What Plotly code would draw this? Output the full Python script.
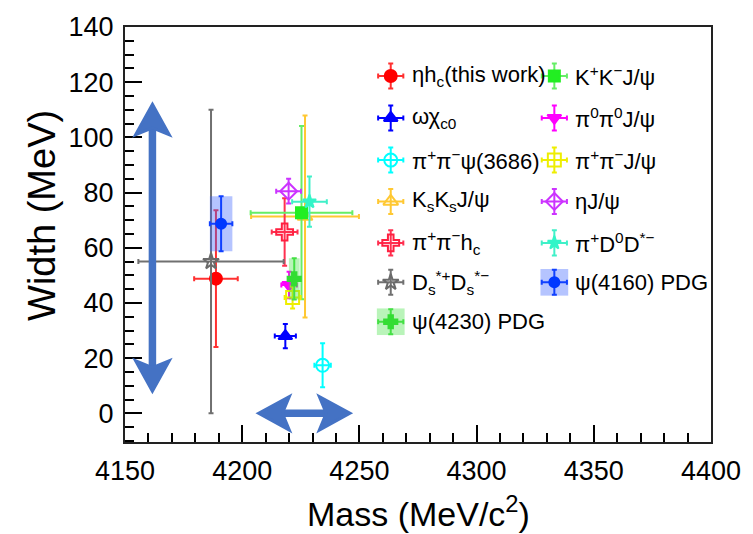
import plotly.graph_objects as go

# ---------------- data (legend order, column-major) ----------------
labels = ["ηh<sub>c</sub>(this work)", "ωχ<sub>c0</sub>", "π<sup>+</sup>π<sup>−</sup>ψ(3686)",
          "K<sub>s</sub>K<sub>s</sub>J/ψ", "π<sup>+</sup>π<sup>−</sup>h<sub>c</sub>",
          "D<sub>s</sub><sup>*+</sup>D<sub>s</sub><sup>*−</sup>", "ψ(4230) PDG",
          "K<sup>+</sup>K<sup>−</sup>J/ψ", "π<sup>0</sup>π<sup>0</sup>J/ψ", "π<sup>+</sup>π<sup>−</sup>J/ψ",
          "ηJ/ψ", "π<sup>+</sup>D<sup>0</sup>D<sup>*−</sup>", "ψ(4160) PDG"]
mass      = [4188.8, 4218.4, 4234.3, 4226.8, 4218.1, 4186.7, 4222.2,
             4225.3, 4220.0, 4221.5, 4219.8, 4228.7, 4191.0]
mass_err  = [9.3, 4.5, 3.5, 23.0, 5.5, 31.0, 2.3,
             21.7, 3.3, 3.4, 5.3, 7.4, 4.8]
width     = [48.8, 28.0, 17.4, 71.3, 65.7, 55.0, 48.7,
             72.7, 46.5, 42.0, 80.5, 76.7, 68.7]
width_err = [24.8, 4.4, 8.0, 36.6, 12.2, 55.0, 7.5,
             31.4, 4.8, 4.0, 4.5, 9.1, 10.0]
is_pdg    = [False, False, False, False, False, False, True,
             False, False, False, False, False, True]

x_ticks = [4150, 4200, 4250, 4300, 4350, 4400]
y_ticks = [0, 20, 40, 60, 80, 100, 120, 140]

# ---------------- styles ----------------
colors  = ["#ff0000", "#0000ff", "#00ffff", "#ffc832", "#ff2040", "#6a6a6a", "#33dd33",
           "#22ee22", "#ff00ff", "#eeee00", "#cc33ff", "#33f5c8", "#0038ff"]
bar_colors = ["#ff3030", "#0000ff", "#00ffff", "#ffc832", "#ff3050", "#707070", "#44e044",
              "#66ee66", "#ff00ff", "#eeee00", "#cc33ff", "#40f0c8", "#1040ff"]
symbols = ["circle", "triangle-up", "circle-open", "triangle-up-open", "cross-open", "star-open",
           "cross", "square", "triangle-down", "square-open", "diamond-open", "star", "circle"]
sizes   = [12, 12, 13, 13, 14, 12, 11, 11, 12, 13, 13, 10, 10]
box_colors = {6: "rgba(70,225,70,0.38)", 12: "rgba(60,100,255,0.38)"}
draw_order = [0, 1, 2, 3, 4, 5, 7, 8, 9, 10, 11, 12, 6]

FONT = "Liberation Sans, Arial, Helvetica, sans-serif"
W, H = 753, 534
ML, MR, MT, MB = 125, 37, 21, 92
xr = [4150, 4400]
yr = [-10.4, 140]

def px_x(m):
    return ML + (m - xr[0]) / (xr[1] - xr[0]) * (W - ML - MR)

def px_y(w):
    return (H - MB) - (w - yr[0]) / (yr[1] - yr[0]) * (H - MT - MB)

def paper_x(px):
    return (px - ML) / (W - ML - MR)

def paper_y(py):
    return ((H - MB) - py) / (H - MT - MB)

fig = go.Figure()

# ---------------- data points ----------------
for i in draw_order:
    if is_pdg[i]:
        x0, x1 = mass[i] - mass_err[i], mass[i] + mass_err[i]
        y0, y1 = width[i] - width_err[i], width[i] + width_err[i]
        fig.add_trace(go.Scatter(x=[x0, x1, x1, x0, x0], y=[y0, y0, y1, y1, y0],
                                 mode="lines", fill="toself", fillcolor=box_colors[i],
                                 line=dict(width=0), hoverinfo="skip"))
    fig.add_trace(go.Scatter(
        x=[mass[i]], y=[width[i]], mode="markers",
        marker=dict(symbol=symbols[i], size=sizes[i], color=colors[i],
                    line=dict(width=2, color=colors[i])),
        error_x=dict(type="data", array=[mass_err[i]], color=bar_colors[i], thickness=2, width=2.5),
        error_y=dict(type="data", array=[width_err[i]], color=bar_colors[i], thickness=2, width=2.5),
        name=labels[i]))

# ---------------- hand-made legend (pixel overlay axes) ----------------
leg_sym_x = [393, 558]
leg_txt_x = [412, 577]
leg_rows = [70.7, 113.3, 156, 198, 240, 280, 320]
annotations = []
for i in range(len(labels)):
    col = 0 if i < 7 else 1
    row = i if i < 7 else i - 7
    sx, sy = leg_sym_x[col], leg_rows[row]
    if is_pdg[i]:
        fig.add_trace(go.Scatter(x=[sx - 14, sx + 14, sx + 14, sx - 14, sx - 14],
                                 y=[sy - 13.5, sy - 13.5, sy + 13.5, sy + 13.5, sy - 13.5],
                                 xaxis="x2", yaxis="y2", mode="lines", fill="toself",
                                 fillcolor=box_colors[i], line=dict(width=0), hoverinfo="skip"))
    fig.add_trace(go.Scatter(
        x=[sx], y=[sy], xaxis="x2", yaxis="y2", mode="markers",
        marker=dict(symbol=symbols[i], size=sizes[i], color=colors[i],
                    line=dict(width=2, color=colors[i])),
        error_x=dict(type="constant", value=12.7, color=bar_colors[i], thickness=2, width=2.5),
        error_y=dict(type="constant", value=12.7, color=bar_colors[i], thickness=2, width=2.5),
        hoverinfo="skip"))
    annotations.append(dict(x=leg_txt_x[col], y=sy, xref="x2", yref="y2", text=labels[i],
                            showarrow=False, xanchor="left", yanchor="middle",
                            font=dict(family=FONT, size=22, color="black")))

# ---------------- double arrows ----------------
ARROW = "#4472c4"
arrow_v = dict(x=4161.7, y0=8, y1=112)
arrow_h = dict(y=0, x0=4207, x1=4246)
HL, HW, NOTCH, SHAFT = 31, 17, 7, 7.5

def head(tx, ty, dx, dy):
    nx, ny = -dy, dx
    bl = (tx - HL * dx + HW * nx, ty - HL * dy + HW * ny)
    br = (tx - HL * dx - HW * nx, ty - HL * dy - HW * ny)
    nt = (tx - (HL - NOTCH) * dx, ty - (HL - NOTCH) * dy)
    path = f"M {tx},{ty} L {bl[0]},{bl[1]} L {nt[0]},{nt[1]} L {br[0]},{br[1]} Z"
    return path, nt

shapes = []
def double_arrow(p0, p1):
    (x0, y0), (x1, y1) = p0, p1
    d = ((x1 - x0) ** 2 + (y1 - y0) ** 2) ** 0.5
    dx, dy = (x1 - x0) / d, (y1 - y0) / d
    pa, na = head(x1, y1, dx, dy)
    pb, nb = head(x0, y0, -dx, -dy)
    shapes.append(dict(type="line", xref="x2", yref="y2", x0=na[0], y0=na[1], x1=nb[0], y1=nb[1],
                       line=dict(color=ARROW, width=SHAFT)))
    for p in (pa, pb):
        shapes.append(dict(type="path", xref="x2", yref="y2", path=p, fillcolor=ARROW,
                           line=dict(color=ARROW, width=3)))

double_arrow((px_x(arrow_v["x"]), px_y(arrow_v["y0"])), (px_x(arrow_v["x"]), px_y(arrow_v["y1"])))
double_arrow((px_x(arrow_h["x0"]), px_y(arrow_h["y"])), (px_x(arrow_h["x1"]), px_y(arrow_h["y"])))

# ---------------- axis titles ----------------
annotations.append(dict(x=paper_x(420.5), y=paper_y(513), xref="paper", yref="paper",
                        text="Mass (MeV/c<sup>2</sup>)", showarrow=False,
                        xanchor="center", yanchor="middle",
                        font=dict(family=FONT, size=34, color="black")))
annotations.append(dict(x=paper_x(42), y=paper_y(212), xref="paper", yref="paper",
                        text="Width (MeV)", showarrow=False, textangle=-90,
                        xanchor="center", yanchor="middle",
                        font=dict(family=FONT, size=38, color="black")))

axis_common = dict(showgrid=False, zeroline=False, showline=True, linecolor="#222222", linewidth=2,
                   mirror=True, ticks="inside", ticklen=17, tickwidth=1.5, tickcolor="black",
                   tickfont=dict(family=FONT, size=27, color="black"))
fig.update_layout(
    width=W, height=H, margin=dict(l=ML, r=MR, t=MT, b=MB),
    plot_bgcolor="white", paper_bgcolor="white", showlegend=False,
    font=dict(family=FONT, color="black"),
    xaxis=dict(range=xr, tickvals=x_ticks, ticktext=[str(v) for v in x_ticks],
               minor=dict(ticks="inside", ticklen=9, dtick=10, tick0=4150, tickcolor="black", tickwidth=1.5),
               ticklabelstandoff=4, **axis_common),
    yaxis=dict(range=yr, tickvals=y_ticks, ticktext=[str(v) for v in y_ticks],
               minor=dict(ticks="inside", ticklen=9, dtick=5, tick0=0, tickcolor="black", tickwidth=1.5),
               ticklabelstandoff=4, **axis_common),
    xaxis2=dict(overlaying="x", anchor="y2", range=[ML, W - MR], visible=False),
    yaxis2=dict(overlaying="y", anchor="x2", range=[H - MB, MT], visible=False),
    annotations=annotations, shapes=shapes,
)

fig.write_html("out.html")
